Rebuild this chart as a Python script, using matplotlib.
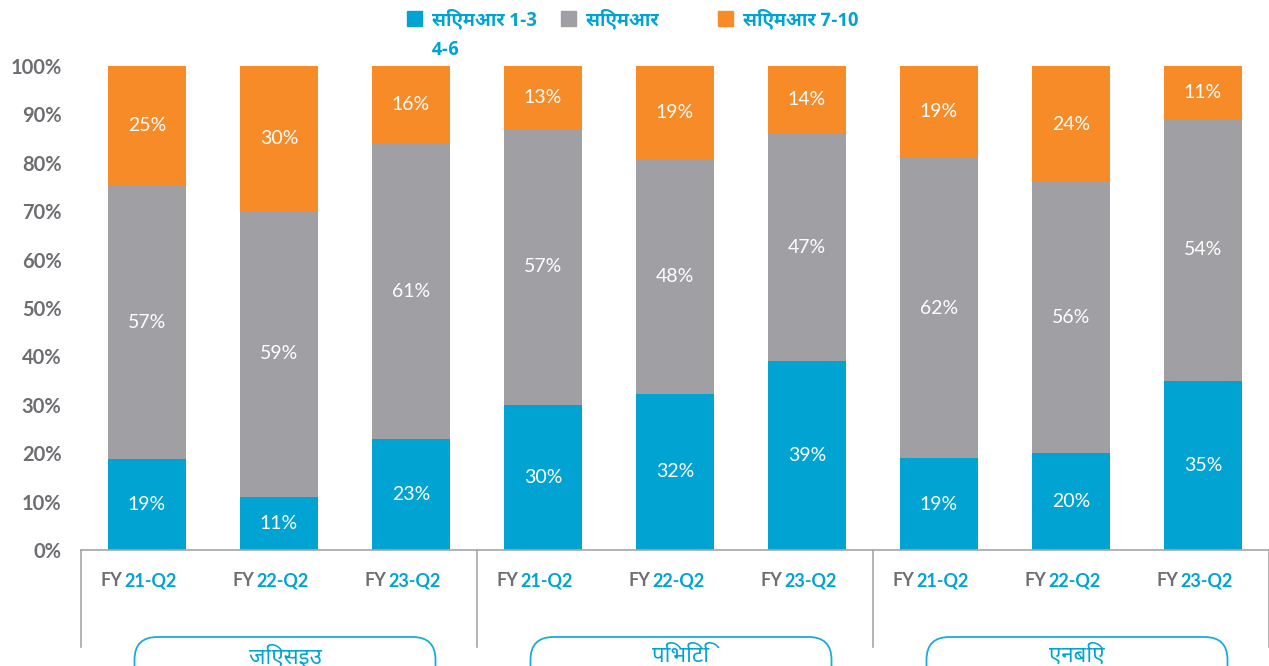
import matplotlib
matplotlib.use("Agg")
import numpy as np
import matplotlib.pyplot as plt
from matplotlib.patches import FancyBboxPatch, Rectangle

# ---- data ----
groups = ["जिएसइउ", "पिभिटि", "एनबिए"]
periods = ["21-Q2", "22-Q2", "23-Q2"]
series_names = ["सिएमआर 1-3", "सिएमआर 4-6", "सिएमआर 7-10"]

cmr_1_3 = [19, 11, 23, 30, 32, 39, 19, 20, 35]
cmr_4_6 = [57, 59, 61, 57, 48, 47, 62, 56, 54]
cmr_7_10 = [25, 30, 16, 13, 19, 14, 19, 24, 11]

# ---- style ----
BLUE = "#00A3D2"
GRAY = "#A0A0A4"
ORANGE = "#F68B28"
TXT_GRAY = "#6D6E71"
LINE = "#A6A6A6"
LATIN = ["Lato", "DejaVu Sans"]
DEVA = ["Noto Sans Devanagari", "DejaVu Sans"]
DEVA_BOLD = ["Noto Sans Devanagari UI", "Noto Sans Devanagari", "DejaVu Sans"]

W, H = 1269, 666
fig = plt.figure(figsize=(W / 100, H / 100), dpi=100)
ax_l, ax_b, ax_w, ax_h = 81 / W, 116 / H, 1188 / W, 484 / H
ax = fig.add_axes([ax_l, ax_b, ax_w, ax_h])

vals = np.array([cmr_1_3, cmr_4_6, cmr_7_10], dtype=float)
# stack so each bar fills 100%
shares = vals / vals.sum(axis=0) * 100
x = np.arange(len(cmr_1_3))
bottom = np.zeros(len(x))
for k, col in enumerate([BLUE, GRAY, ORANGE]):
    ax.bar(x, shares[k], width=0.59, bottom=bottom, color=col, zorder=2)
    for i in range(len(x)):
        ax.text(x[i], bottom[i] + shares[k][i] / 2, f"{int(vals[k][i])}%",
                ha="center", va="center", color="white", fontsize=14,
                family=LATIN)
    bottom += shares[k]

ax.set_xlim(-0.5, len(x) - 0.5)
ax.set_ylim(0, 100)
ax.set_yticks(np.arange(0, 101, 10))
ax.set_yticklabels([f"{v}%" for v in range(0, 101, 10)], fontsize=14.5,
                   fontweight="bold", color=TXT_GRAY, family=LATIN)
ax.tick_params(axis="y", length=0, pad=14)
ax.set_xticks([])
for s in ["top", "right", "left"]:
    ax.spines[s].set_visible(False)
ax.spines["bottom"].set_color(LINE)
ax.spines["bottom"].set_linewidth(1.2)

# category labels under each bar
for i in range(len(x)):
    ax.text(x[i] - 0.19, -0.064, "FY", transform=ax.get_xaxis_transform(),
            ha="right", va="center", color=TXT_GRAY, fontsize=13,
            fontweight="bold", family=LATIN)
    ax.text(x[i] - 0.175, -0.064, periods[i % 3], transform=ax.get_xaxis_transform(),
            ha="left", va="center", color=BLUE, fontsize=13,
            fontweight="bold", family=LATIN)

# group separators
for gx in [-0.5, 2.5, 5.5, 8.5]:
    ax.plot([gx, gx], [0, -0.2], transform=ax.get_xaxis_transform(),
            color=LINE, lw=1.2, clip_on=False)

# group labels in rounded boxes
box_w = 301 / W
for g, name in enumerate(groups):
    cx = ax_l + (3 * g + 1.5) / 9 * ax_w + 6 / W
    box = FancyBboxPatch((cx - box_w / 2, -30 / H), box_w, 59 / H,
                         boxstyle="round,pad=0,rounding_size=0.018",
                         mutation_aspect=W / H, transform=fig.transFigure,
                         fc="white", ec=BLUE, lw=1.3, alpha=0.9)
    fig.patches.append(box)
    fig.text(cx, 10 / H, name, ha="center", va="center", color=BLUE,
             fontsize=16, family=DEVA)

# legend drawn by hand (second label wraps like the reference)
leg = [(407, BLUE, series_names[0]), (561, GRAY, "सिएमआर"), (718, ORANGE, series_names[2])]
for px, col, lab in leg:
    fig.patches.append(Rectangle((px / W, (H - 26) / H), 15 / W, 15 / H,
                                 transform=fig.transFigure, color=col))
    fig.text((px + 25) / W, (H - 19) / H, lab, ha="left", va="center",
             color=BLUE, fontsize=13.5, fontweight="bold", family=DEVA_BOLD)
fig.text(432 / W, (H - 50) / H, series_names[1].split()[-1], ha="left",
         va="center", color=BLUE, fontsize=13.5, fontweight="bold", family=DEVA_BOLD)

fig.savefig("out.png", dpi=100)
